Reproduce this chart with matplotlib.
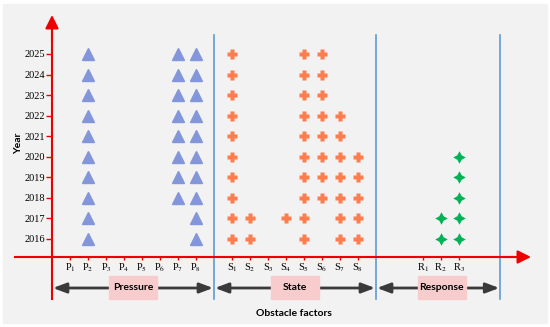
import matplotlib
matplotlib.use("Agg")
import matplotlib.pyplot as plt
from matplotlib.patches import Rectangle

plt.rcParams["mathtext.fontset"] = "stix"

# data -----------------------------------------------------------------
years = list(range(2016, 2026))

p_labels = [f"P$_{i}$" for i in range(1, 9)]
s_labels = [f"S$_{i}$" for i in range(1, 9)]
r_labels = [f"R$_{i}$" for i in range(1, 4)]

p_pos = [1, 2, 3, 4, 5, 6, 7, 8]
s_pos = [10, 11, 12, 13, 14, 15, 16, 17]
r_pos = [20.6, 21.6, 22.6]

# years in which each factor is an obstacle
pressure_hits = {
    "P2": list(range(2016, 2026)),
    "P7": list(range(2018, 2026)),
    "P8": list(range(2016, 2026)),
}
state_hits = {
    "S1": list(range(2016, 2026)),
    "S2": [2016, 2017],
    "S4": [2017],
    "S5": list(range(2016, 2026)),
    "S6": list(range(2018, 2026)),
    "S7": list(range(2016, 2023)),
    "S8": list(range(2016, 2021)),
}
response_hits = {
    "R2": [2016, 2017],
    "R3": list(range(2016, 2021)),
}

groups = ["Pressure", "State", "Response"]
group_edges = [0, 9, 18, 24.9]

# figure ---------------------------------------------------------------
W, H = 550, 327
fig = plt.figure(figsize=(W / 100, H / 100), dpi=100)
fig.patch.set_facecolor("white")
fig.patches.append(Rectangle((3 / W, 4 / H), 544 / W, 319 / H,
                             transform=fig.transFigure, color="#f2f2f2", zorder=-10))

ax = fig.add_axes([0, 0, 1, 1])
ax.set_facecolor("none")
PX = 18.0     # px per factor step
PY = 20.56    # px per year
ax.set_xlim(-52 / PX, (W - 52) / PX)
ax.set_ylim(2016 - (H - 239) / PY, 2016 + 239 / PY)

y_axis = 2016 - 18 / PY
y_bottom = 2016 - 60 / PY
y_arrow = 2016 - 49 / PY

red = "#ee0000"
blue = "#5b9bd5"

# axes spines as red arrows
for s in ["top", "right"]:
    ax.spines[s].set_visible(False)
ax.spines["left"].set_position(("data", 0))
ax.spines["bottom"].set_position(("data", y_axis))
ax.spines["left"].set_bounds(y_bottom, 2026.3)
ax.spines["bottom"].set_bounds(-2.05, 25.9)
for s in ["left", "bottom"]:
    ax.spines[s].set_color(red)
    ax.spines[s].set_linewidth(1.5)

head = dict(arrowstyle="-|>,head_length=0.8,head_width=0.4", color=red, lw=1.5,
            mutation_scale=10, shrinkA=0, shrinkB=0)
ax.annotate("", xy=(0, 2016 + 224 / PY), xytext=(0, 2025.6), arrowprops=head)
ax.annotate("", xy=(479 / PX, y_axis), xytext=(25.0, y_axis), arrowprops=head)

ax.set_yticks(years)
ax.set_yticklabels([str(y) for y in years], fontfamily="Liberation Serif", fontsize=7.5)
ax.tick_params(axis="y", direction="out", length=4, width=1, color=red, pad=1)

ax.set_xticks(p_pos + s_pos + r_pos)
ax.set_xticklabels(p_labels + s_labels + r_labels, fontfamily="Liberation Serif",
                   fontsize=7.5)
ax.tick_params(axis="x", direction="out", length=2.5, width=1, color=red, pad=1)

# group separators
for x in group_edges[1:]:
    ax.plot([x, x], [y_bottom, 2016 + 204 / PY], color=blue, lw=1.2, zorder=2)

# markers
def pos_of(name):
    i = int(name[1:]) - 1
    return {"P": p_pos, "S": s_pos, "R": r_pos}[name[0]][i]

for name, ys in pressure_hits.items():
    ax.plot([pos_of(name)] * len(ys), ys, ls="none", marker="^", ms=8,
            color="#8496da", zorder=3)
for name, ys in state_hits.items():
    ax.plot([pos_of(name)] * len(ys), ys, ls="none", marker="P", ms=7,
            color="#ff7c4c", mec="none", zorder=3)
for name, ys in response_hits.items():
    ax.plot([pos_of(name)] * len(ys), ys, ls="none", marker=(4, 1, 0), ms=9,
            color="#00b356", mec="none", zorder=3)

# group arrows with labels
box_w, box_h = 48 / PX, 23 / PY
for g, x0, x1 in zip(groups, group_edges[:-1], group_edges[1:]):
    ax.annotate("", xy=(x0 + 0.05, y_arrow), xytext=(x1 - 0.05, y_arrow),
                arrowprops=dict(arrowstyle="<|-|>,head_length=0.8,head_width=0.3",
                                color="#3a3a3a", lw=2, mutation_scale=10,
                                shrinkA=0, shrinkB=0), zorder=2)
    xc = (x0 + x1) / 2 + (0.0 if g != "Response" else 0.2)
    ax.add_patch(Rectangle((xc - box_w / 2, y_arrow - box_h / 2), box_w, box_h,
                           color="#f8cccc", zorder=3))
    ax.text(xc, y_arrow, g, ha="center", va="center", fontsize=7.5,
            fontfamily="Lato", fontweight="bold", zorder=4)

ax.text(13.45, 2016 - 74 / PY, "Obstacle factors", ha="center", va="center",
        fontsize=7.5, fontfamily="Lato", fontweight="bold")
ax.text(-33 / PX, 2016 + 96 / PY, "Year", ha="center", va="center",
        rotation=90, fontsize=7.5, fontfamily="Lato", fontweight="bold")

fig.savefig("out.png", dpi=100, facecolor=fig.get_facecolor())
